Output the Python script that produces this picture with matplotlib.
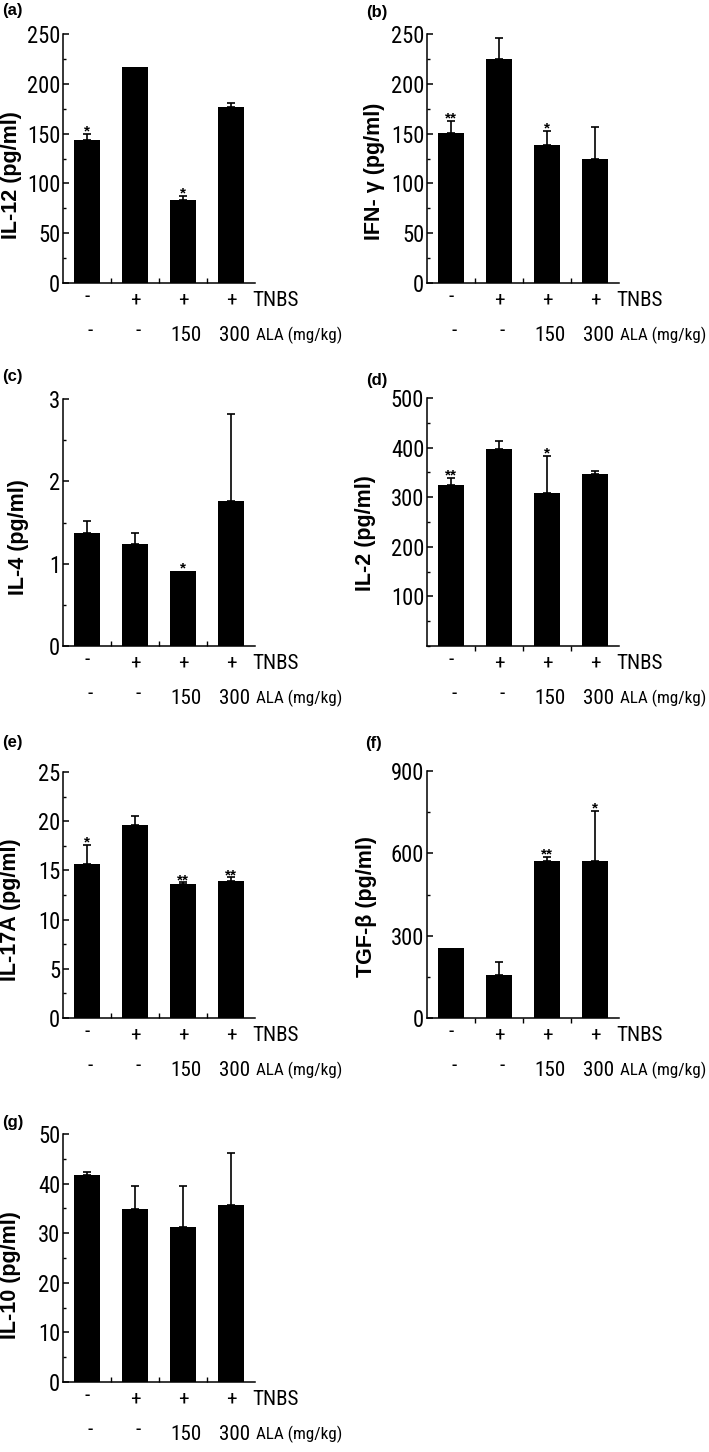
import numpy as np
import matplotlib
matplotlib.use("Agg")
import matplotlib.pyplot as plt
from matplotlib.ticker import MultipleLocator
from matplotlib import font_manager
from matplotlib.textpath import TextPath

# ---- data ----
tnbs_row = ["-", "+", "+", "+"]
ala_row = ["-", "-", "150", "300"]

il12_mean = [143.7, 216.8, 83.1, 177.2]
il12_err = [5.8, 0, 4.7, 3.4]
il12_star = ["*", "", "*", ""]

ifng_mean = [150.3, 225.0, 138.6, 124.2]
ifng_err = [12.5, 21.0, 14.1, 32.8]
ifng_star = ["**", "", "*", ""]

il4_mean = [1.376, 1.239, 0.913, 1.761]
il4_err = [0.142, 0.137, 0, 1.056]
il4_star = ["", "", "*", ""]

il2_mean = [324, 397, 309, 347]
il2_err = [15, 16, 74, 6]
il2_star = ["**", "", "*", ""]

il17_mean = [15.7, 19.6, 13.65, 13.9]
il17_err = [1.9, 0.9, 0.15, 0.4]
il17_star = ["*", "", "**", "**"]

tgfb_mean = [253.6, 155.0, 572.6, 571.4]
tgfb_err = [0, 50, 14.5, 184.6]
tgfb_star = ["", "", "**", "*"]

il10_mean = [41.7, 34.9, 31.3, 35.7]
il10_err = [0.6, 4.6, 8.2, 10.5]
il10_star = ["", "", "", ""]

W, H = 709, 1452
WIDE = ["Liberation Sans", "DejaVu Sans"]


def pick_narrow_font(target_ratio=6.1):
    # the axis text in the original is an Arial-Narrow-like face: choose the
    # installed upright sans whose width/cap-height ratio is closest
    bases = ["Liberation Sans", "DejaVu Sans", "Noto Sans", "Open Sans",
             "Roboto", "Lato", "Inter", "Arial"]
    best, best_d = None, 1e9
    for f in font_manager.fontManager.ttflist:
        n = f.name
        if not any(n.startswith(b) for b in bases):
            continue
        if any(k in n for k in ["Mono", "CJK", "Serif", "Display", "Symbols", "Math"]):
            continue
        if n.startswith("Noto Sans") and n not in ("Noto Sans",) and \
                not any(k in n for k in ["Condensed", "Narrow"]):
            continue
        if f.style != "normal":
            continue
        w = f.weight
        if isinstance(w, str):
            w = font_manager.weight_dict.get(w, 400)
        if w != 400:
            continue
        try:
            fp = font_manager.FontProperties(fname=f.fname)
            cap = TextPath((0, 0), "T", size=100, prop=fp).get_extents().height
            wid = TextPath((0, 0), "ALA (mg/kg)", size=100, prop=fp).get_extents().width
        except Exception:
            continue
        if cap < 50:
            continue
        d = abs(wid / cap - target_ratio)
        if d < best_d:
            best, best_d = (f.fname, wid, cap), d
    return best


fname, wid100, cap100 = pick_narrow_font()
NFP = font_manager.FontProperties(fname=fname)
PX = 100 / 72  # pixels per point at dpi 100
TICK_SIZE = 16.0 / (cap100 / 100 * PX)   # cap height ~16 px
ROW_SIZE = 15.0 / (cap100 / 100 * PX)    # cap height ~15 px
ALA_SIZE = min(ROW_SIZE, 85 / (wid100 / 100 * PX))  # must fit the right edge


def ntext(size):
    fp = NFP.copy()
    fp.set_size(size)
    return dict(fontproperties=fp)


fig = plt.figure(figsize=(W / 100, H / 100), dpi=100)


def add_panel(box, letter, letter_xy, ylabel, label_xy, mean, err, stars,
              ymax, major, minor, yticks=None, xtick_dir="in"):
    l, r, t, b = box
    ax = fig.add_axes([l / W, 1 - b / H, (r - l) / W, (b - t) / H])
    x = np.arange(len(mean))
    ax.bar(x, mean, width=0.54, color="black", zorder=2)
    err = np.asarray(err, float)
    m = err > 0
    ax.errorbar(x[m], np.asarray(mean)[m], yerr=[np.zeros(m.sum()), err[m]],
                fmt="none", ecolor="black", elinewidth=1.2, capsize=3.2,
                capthick=1.2, zorder=1)
    for xi, mu, e, s in zip(x, mean, err, stars):
        if s:
            ax.annotate(s, (xi, mu + e), xytext=(0, -3.5), textcoords="offset points",
                        ha="center", va="bottom", fontsize=11, family=WIDE,
                        fontweight="bold")
    ax.set_xlim(-0.5, 3.5)
    ax.set_ylim(0, ymax)
    ax.yaxis.set_major_locator(MultipleLocator(major))
    ax.yaxis.set_minor_locator(MultipleLocator(minor))
    if yticks is not None:
        ax.set_yticks(yticks)
        ax.yaxis.set_minor_locator(MultipleLocator(minor))
    ax.set_xticks([0.5, 1.5, 2.5])
    ax.set_xticklabels([])
    for sp in ["top", "right"]:
        ax.spines[sp].set_visible(False)
    for sp in ["left", "bottom"]:
        ax.spines[sp].set_linewidth(1.1)
    ax.tick_params(axis="y", which="major", direction="in", length=4.5, width=1.1, pad=2)
    ax.tick_params(axis="y", which="minor", direction="in", length=2.5, width=1.0)
    ax.tick_params(axis="x", which="major", direction=xtick_dir, length=3.5, width=1.0)
    ax.set_yticks(ax.get_yticks())
    ax.set_yticklabels([f"{v:g}" for v in ax.get_yticks()], **ntext(TICK_SIZE))
    ax.set_ylim(0, ymax)
    ax.set_ylabel(ylabel, fontsize=15.5, fontweight="bold", family=WIDE)
    lx, ly = label_xy
    ax.yaxis.set_label_coords((lx - l) / (r - l), (b - ly) / (b - t))

    for xi, s in zip(x, tnbs_row):
        dy = 2.5 if s == "-" else 0
        ax.annotate(s, (xi, 0), xycoords=("data", "axes fraction"),
                    xytext=(0, -12.5 + dy), textcoords="offset points",
                    ha="center", va="center", **ntext(ROW_SIZE))
    ax.annotate("TNBS", (3.45, 0), xycoords=("data", "axes fraction"), xytext=(0, -12.5),
                textcoords="offset points", ha="left", va="center", **ntext(ROW_SIZE))
    for xi, s in zip(x, ala_row):
        dy = 3.0 if s == "-" else 0
        ax.annotate(s, (xi + 0.07, 0), xycoords=("data", "axes fraction"),
                    xytext=(0, -37.5 + dy), textcoords="offset points", ha="center",
                    va="center", **ntext(ROW_SIZE))
    ax.annotate("ALA (mg/kg)", (3.53, 0), xycoords=("data", "axes fraction"),
                xytext=(0, -37.5), textcoords="offset points", ha="left",
                va="center", **ntext(ALA_SIZE))

    fig.text(letter_xy[0] / W, 1 - letter_xy[1] / H, letter, fontsize=12,
             fontweight="bold", family=WIDE, ha="left", va="center")
    return ax


add_panel((63, 255, 34, 283), "(a)", (2, 11), "IL-12 (pg/ml)", (22, 175),
          il12_mean, il12_err, il12_star, 250, 50, 25)
add_panel((427, 619, 34, 283), "(b)", (366, 12), "IFN- γ (pg/ml)", (385, 171),
          ifng_mean, ifng_err, ifng_star, 250, 50, 25)
add_panel((63, 255, 399, 646), "(c)", (2, 377), "IL-4 (pg/ml)", (29, 537),
          il4_mean, il4_err, il4_star, 3, 1, 0.5)
add_panel((427, 619, 398, 646), "(d)", (366, 381), "IL-2 (pg/ml)", (376, 533),
          il2_mean, il2_err, il2_star, 500, 100, 50,
          yticks=[100, 200, 300, 400, 500], xtick_dir="out")
add_panel((63, 255, 772, 1018), "(e)", (2, 742), "IL-17A (pg/ml)", (21, 910),
          il17_mean, il17_err, il17_star, 25, 5, 2.5)
add_panel((427, 619, 771, 1018), "(f)", (365, 744), "TGF-β (pg/ml)", (377, 906),
          tgfb_mean, tgfb_err, tgfb_star, 900, 300, 150, xtick_dir="out")
add_panel((63, 255, 1134, 1382), "(g)", (2, 1123), "IL-10 (pg/ml)", (21, 1275),
          il10_mean, il10_err, il10_star, 50, 10, 5)

fig.savefig("out.png", dpi=100, facecolor="white")
